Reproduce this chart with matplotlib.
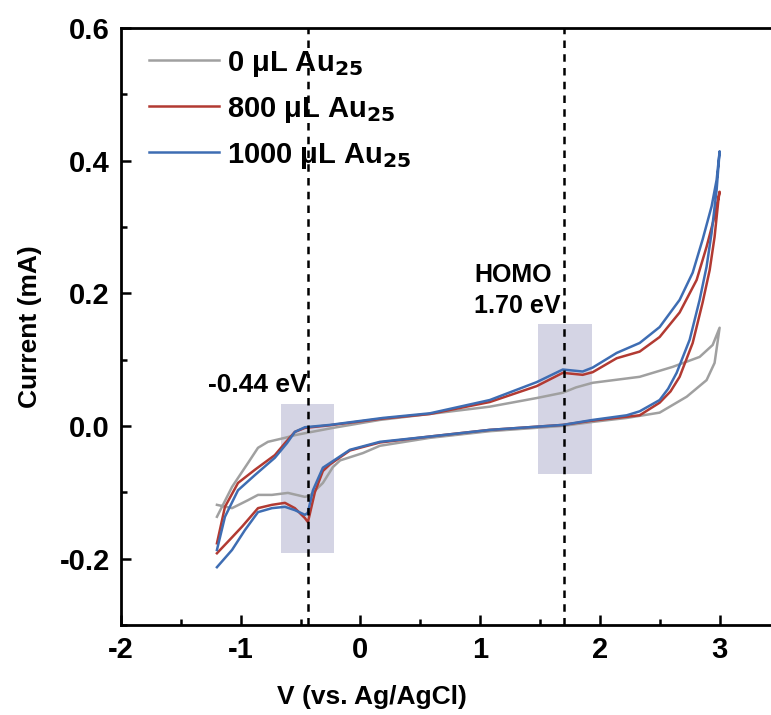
import matplotlib

matplotlib.use("Agg")
import matplotlib.pyplot as plt
from matplotlib.ticker import MultipleLocator

plt.rcParams["font.family"] = ["Liberation Sans", "DejaVu Sans"]
plt.rcParams["font.weight"] = "bold"
plt.rcParams["mathtext.default"] = "bf"
plt.rcParams["axes.unicode_minus"] = False

# ---- data (V vs Ag/AgCl, mA) ----
labels = ["0 μL Au$_{25}$", "800 μL Au$_{25}$", "1000 μL Au$_{25}$"]
colors = ["#a0a0a0", "#b23a32", "#3e6db3"]

# anodic (upper) branches, increasing V
gray_up_x = [-1.199, -1.073, -0.94, -0.856, -0.773, -0.631, -0.548, -0.464, -0.23, 0.162,
             0.58, 1.08, 1.472, 1.69, 1.8, 1.94, 2.332, 2.608, 2.833, 2.942, 3.0]
gray_up_y = [-0.137, -0.092, -0.056, -0.033, -0.024, -0.018, -0.014, -0.011, -0.003, 0.009,
             0.018, 0.029, 0.042, 0.050, 0.058, 0.065, 0.074, 0.089, 0.104, 0.122, 0.148]
red_up_x = [-1.199, -1.132, -1.023, -0.881, -0.715, -0.631, -0.548, -0.464, -0.255, 0.187,
            0.58, 1.08, 1.472, 1.69, 1.856, 1.94, 2.14, 2.332, 2.499, 2.666, 2.808, 2.891,
            2.958, 3.0]
red_up_y = [-0.177, -0.122, -0.086, -0.066, -0.044, -0.026, -0.009, -0.003, 0.001, 0.011,
            0.018, 0.036, 0.060, 0.080, 0.077, 0.081, 0.102, 0.112, 0.134, 0.171, 0.220,
            0.270, 0.316, 0.353]
blue_up_x = [-1.199, -1.132, -1.023, -0.881, -0.715, -0.614, -0.548, -0.464, -0.255, 0.187,
             0.58, 1.08, 1.472, 1.69, 1.856, 1.94, 2.14, 2.332, 2.499, 2.666, 2.775, 2.858,
             2.933, 2.975, 3.0]
blue_up_y = [-0.187, -0.137, -0.097, -0.074, -0.048, -0.026, -0.009, -0.002, 0.0015, 0.012,
             0.019, 0.039, 0.066, 0.085, 0.082, 0.088, 0.110, 0.125, 0.149, 0.190, 0.231,
             0.281, 0.331, 0.371, 0.414]

# cathodic (lower) branches, increasing V
gray_dn_x = [-1.199, -1.073, -0.94, -0.856, -0.74, -0.606, -0.464, -0.422, -0.314, -0.23,
             -0.17, 0.02, 0.162, 0.58, 1.08, 1.69, 1.94, 2.224, 2.499, 2.725, 2.891, 2.958,
             3.0]
gray_dn_y = [-0.119, -0.124, -0.112, -0.104, -0.104, -0.101, -0.107, -0.105, -0.086, -0.062,
             -0.052, -0.041, -0.030, -0.018, -0.008, 0.000, 0.006, 0.012, 0.020, 0.044,
             0.069, 0.095, 0.148]
red_dn_x = [-1.199, -1.073, -0.99, -0.856, -0.74, -0.631, -0.548, -0.464, -0.439, -0.381,
            -0.314, -0.255, -0.088, 0.162, 0.58, 1.08, 1.69, 1.94, 2.332, 2.499, 2.59,
            2.666, 2.775, 2.858, 2.917, 2.958, 2.99, 3.0]
red_dn_y = [-0.192, -0.168, -0.152, -0.124, -0.119, -0.116, -0.124, -0.139, -0.145, -0.100,
            -0.068, -0.058, -0.037, -0.025, -0.016, -0.006, 0.0015, 0.008, 0.016, 0.035,
            0.052, 0.074, 0.125, 0.186, 0.235, 0.285, 0.341, 0.353]
blue_dn_x = [-1.199, -1.073, -0.965, -0.856, -0.74, -0.631, -0.548, -0.464, -0.44, -0.397,
             -0.314, -0.255, -0.088, 0.162, 0.58, 1.08, 1.69, 1.94, 2.224, 2.332, 2.499,
             2.57, 2.641, 2.75, 2.833, 2.891, 2.933, 2.975, 3.0]
blue_dn_y = [-0.213, -0.187, -0.157, -0.130, -0.124, -0.122, -0.127, -0.134, -0.131, -0.097,
             -0.063, -0.056, -0.036, -0.024, -0.016, -0.006, 0.0015, 0.009, 0.016, 0.022,
             0.039, 0.056, 0.080, 0.130, 0.190, 0.240, 0.291, 0.356, 0.414]

vlines = [-0.44, 1.70]
band_x = [(-0.667, -0.222), (1.48, 1.93)]
band_y = [(-0.192, 0.033), (-0.072, 0.154)]

ups = [(gray_up_x, gray_up_y), (red_up_x, red_up_y), (blue_up_x, blue_up_y)]
dns = [(gray_dn_x, gray_dn_y), (red_dn_x, red_dn_y), (blue_dn_x, blue_dn_y)]

fig = plt.figure(figsize=(7.71, 7.15), dpi=100)
ax = fig.add_axes([0.157, 0.126, 0.854, 0.835])

for (x0, x1), (y0, y1) in zip(band_x, band_y):
    ax.fill_between([x0, x1], y0, y1, color="#d4d4e4", lw=0, zorder=0)

for (ux, uy), (dx, dy), c, lab in zip(ups, dns, colors, labels):
    ax.plot(ux + dx[::-1], uy + dy[::-1], color=c, lw=1.8, label=lab, zorder=2,
            solid_joinstyle="round")

for v in vlines:
    ax.axvline(v, color="black", ls=(0, (3, 2.5)), lw=1.8, zorder=3)

ax.text(-1.27, 0.062, "-0.44 eV", fontsize=19, fontweight="bold", va="center")
ax.text(0.95, 0.204, "HOMO\n1.70 eV", fontsize=18, fontweight="bold", va="center",
        linespacing=1.35)

ax.set_xlim(-2, 3.5)
ax.set_ylim(-0.3, 0.6)
ax.xaxis.set_major_locator(MultipleLocator(1))
ax.xaxis.set_minor_locator(MultipleLocator(0.5))
ax.yaxis.set_major_locator(MultipleLocator(0.2))
ax.yaxis.set_minor_locator(MultipleLocator(0.1))
ax.tick_params(which="both", direction="in", width=1.8, labelsize=21, pad=8)
ax.tick_params(which="major", length=7)
ax.tick_params(which="minor", length=4)
for s in ax.spines.values():
    s.set_linewidth(2)

ax.set_ylabel("Current (mA)", fontsize=19, fontweight="bold")
ax.set_xlabel("V (vs. Ag/AgCl)", fontsize=19, fontweight="bold")
ax.xaxis.set_label_coords(0.381, -0.1)
ax.yaxis.set_label_coords(-0.12, 0.5)

ax.legend(loc="upper left", frameon=False, fontsize=21, handlelength=2.4,
          labelspacing=0.55, borderaxespad=0.0, handletextpad=0.3,
          bbox_to_anchor=(0.024, 0.985))

fig.savefig("out.png", dpi=100)
